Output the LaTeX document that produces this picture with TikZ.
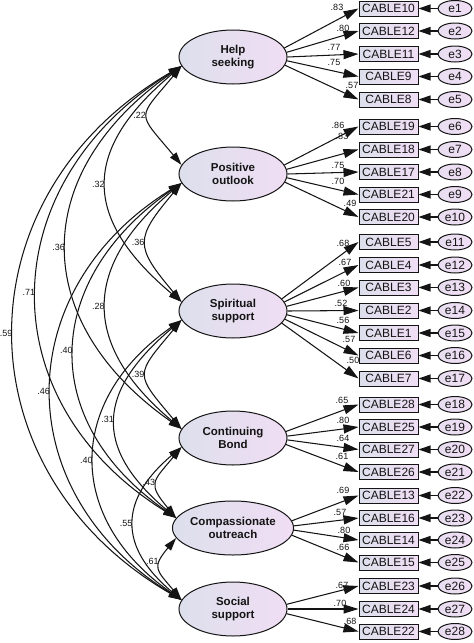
\documentclass[tikz,border=0pt]{standalone}
\usepackage{fontspec}
\setmainfont{Liberation Sans}
\usetikzlibrary{arrows.meta,calc,shapes.geometric}
\definecolor{fl}{RGB}{221,223,236}
\definecolor{fr}{RGB}{240,222,244}
\definecolor{ink}{RGB}{20,20,20}
\newcommand{\ldg}[2]{\draw[load] let \p1=($(#2.west)-(#1.center)$), \n1={atan2(\y1,\x1)/2} in (#1.\n1) -- (#2.west);}
\newcommand{\cov}[6][0.5]{\draw[covs] (#2.190) .. controls +(-#4,#5) and +(-#4,-#5) .. (#3.170) node[clbl,pos=#1,left=1pt]{#6};}
\begin{document}
\begin{tikzpicture}[x=1pt,y=-1pt,
  fac/.style={ellipse, draw=ink, line width=1pt, minimum width=108pt, minimum height=54pt, inner sep=0pt, left color=fl, right color=fr, align=center, font=\fontsize{11.5}{13.3}\selectfont\bfseries, text=ink},
  ind/.style={rectangle, draw=ink, line width=1pt, minimum width=59pt, minimum height=15pt, inner sep=0pt, left color=fl, right color=fr, font=\fontsize{12}{12}\selectfont, text=ink},
  err/.style={ellipse, draw=ink, line width=1pt, minimum width=34pt, minimum height=16pt, inner sep=0pt, left color=fr!60!fl, right color=fr, font=\fontsize{12}{12}\selectfont, text=ink},
  lbl/.style={inner sep=0.5pt, font=\fontsize{9}{9}\selectfont, text=ink},
  clbl/.style={inner sep=0.5pt, font=\fontsize{9}{9}\selectfont, text=ink},
  load/.style={draw=ink, line width=1.05pt, -{Triangle[length=15pt,width=9pt]}},
  errarr/.style={draw=ink, line width=1.05pt, -{Triangle[length=12pt,width=8pt]}},
  covs/.style={draw=ink, line width=1.05pt, {Triangle[length=13pt,width=8pt]}-{Triangle[length=13pt,width=8pt]}}
]
\useasboundingbox (0,0) rectangle (474,643);
% factors
\node[fac] (hs) at (233,57) {Help\\seeking};
\node[fac] (po) at (233,174) {Positive\\outlook};
\node[fac] (ss) at (233,311) {Spiritual\\support};
\node[fac] (cb) at (233,438) {Continuing\\Bond};
\node[fac] (co) at (233,528) {Compassionate\\outreach};
\node[fac] (so) at (233,609) {Social\\support};
% indicators and errors
\foreach \nm/\yy/\en in {10/8.5/1, 12/31/2, 11/54/3, 9/76.5/4, 8/99.5/5,
  19/126.5/6, 18/149.5/7, 17/172/8, 21/194.5/9, 20/217/10,
  5/242/11, 4/265/12, 3/287.5/13, 2/310.5/14, 1/333/15, 6/355.5/16, 7/378.5/17,
  28/404.5/18, 25/427/19, 27/449.5/20, 26/472/21,
  13/495.5/22, 16/518/23, 14/540/24, 15/562.5/25,
  23/586/26, 24/609/27, 22/631.5/28}{
  \node[ind] (c\nm) at (388.5,\yy) {CABLE\nm};
  \node[err] (e\en) at (455,\yy) {e\en};
  \draw[errarr] (e\en) -- (c\nm);
}
% loadings
\foreach \f/\bx in {hs/10,hs/12,hs/11,hs/9,hs/8,po/19,po/18,po/17,po/21,po/20,
  ss/5,ss/4,ss/3,ss/2,ss/1,ss/6,ss/7,cb/28,cb/25,cb/27,cb/26,co/13,co/16,co/14,co/15,
  so/23,so/24,so/22}{\ldg{\f}{c\bx}}
% loading labels
\foreach \i/\xx/\yy/\t in {1/337/7.3/.83, 2/343/28/.80, 3/334/47/.77, 4/334/62/.75, 5/352/85/.57,
  6/338/125/.86, 7/342/136/.83, 8/338/165/.75, 9/338/181/.70, 10/350/203/.49,
  11/343/243/.68, 12/345/262/.67, 13/344/283/.60, 14/341/303/.52, 15/343/320/.56, 16/349/339/.57, 17/353/360/.50,
  18/342/400/.65, 19/343/420/.80, 20/343/438/.64, 21/342/456/.61,
  22/343/490/.69, 23/340/512/.57, 24/344/530/.80, 25/343/547/.66,
  26/342/585/.67, 27/340/603/.70, 28/350/621/.68}{
  \node[lbl] (l\i) at (\xx,\yy) {\t};
}
% covariances
\cov{hs}{po}{45}{54}{.22}
\cov{po}{ss}{47}{56}{.36}
\cov{ss}{cb}{47}{56}{.39}
\cov{cb}{co}{29}{35}{.43}
\cov[0.35]{co}{so}{25}{30}{.61}
\cov{hs}{ss}{100}{84}{.32}
\cov{po}{cb}{100}{84}{.28}
\cov{ss}{co}{84}{71}{.31}
\cov{cb}{so}{63}{53}{.55}
\cov{hs}{cb}{153}{107}{.36}
\cov{po}{co}{139}{97}{.40}
\cov{ss}{so}{116}{81}{.40}
\cov{hs}{co}{189}{117}{.71}
\cov{po}{so}{173}{107}{.46}
\cov{hs}{so}{223}{129}{.59}
\end{tikzpicture}
\end{document}
